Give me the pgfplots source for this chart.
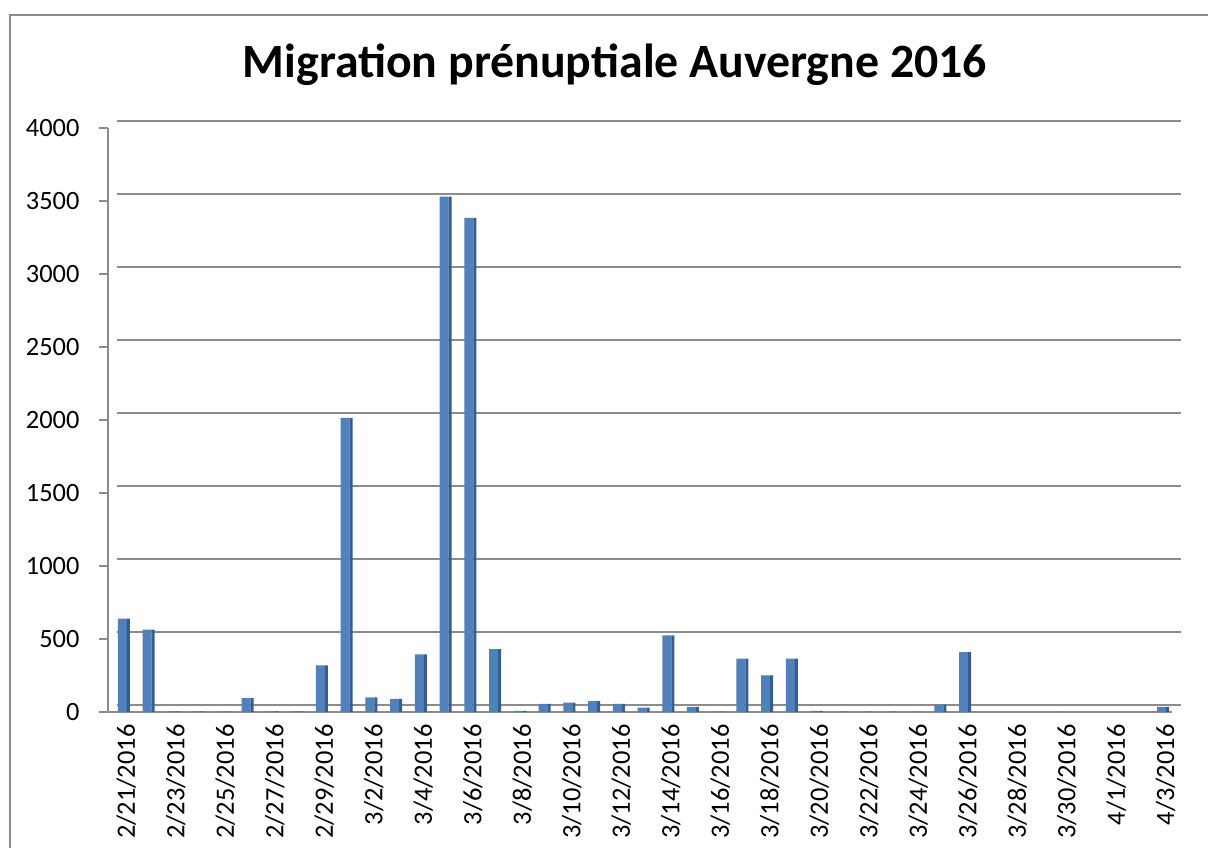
\documentclass[border=0pt]{standalone}
\usepackage{pgfplots}
\pgfplotsset{compat=1.18}
\usepackage{pgfplotstable}
\usepackage{fontspec}
\setmainfont{Carlito}
\definecolor{barfront}{HTML}{4F81BD}
\definecolor{barside}{HTML}{385D8A}
\definecolor{gridc}{HTML}{8C8C8C}
\pgfplotstableread{
x y
0 640
1 565
2 5
3 5
4 3
5 95
6 5
7 5
8 320
9 2015
10 100
11 90
12 395
13 3530
14 3385
15 430
16 8
17 55
18 65
19 75
20 55
21 30
22 525
23 35
24 2
25 365
26 250
27 365
28 8
29 3
30 3
31 3
32 3
33 50
34 410
35 0
36 0
37 0
38 0
39 0
40 0
41 0
42 35
}\datatable
\begin{document}
\begin{tikzpicture}[x=1bp,y=1bp]
\useasboundingbox (0,0) rectangle (1208,848);
\draw[gridc, line width=1.5bp] (10,-20) rectangle (1230,833);
\node[font=\bfseries\fontsize{48}{57}\selectfont, anchor=base] at (615,770) {Migration prénuptiale Auvergne 2016};
\begin{axis}[
  at={(108bp,136bp)}, anchor=south west,
  width=1064bp, height=584bp, scale only axis,
  ymin=0, ymax=4000, ytick={0,500,...,4000},
  xmin=-0.5, xmax=42.5,
  axis x line*=bottom, axis y line*=left,
  axis line style={gridc, line width=1.5bp},
  ymajorgrids, grid style={gridc, line width=1.5bp, yshift=7bp, xshift=9bp},
  tick align=outside, major tick length=9bp,
  y tick style={gridc, line width=1.5bp},
  x tick style={draw=none},
  xtick={0,2,...,42},
  xticklabels={2/21/2016,2/23/2016,2/25/2016,2/27/2016,2/29/2016,3/2/2016,3/4/2016,3/6/2016,3/8/2016,3/10/2016,3/12/2016,3/14/2016,3/16/2016,3/18/2016,3/20/2016,3/22/2016,3/24/2016,3/26/2016,3/28/2016,3/30/2016,4/1/2016,4/3/2016},
  extra x ticks={-0.5,1.5,...,41.5},
  extra x tick labels={},
  extra x tick style={grid=none, tick style={draw=gridc, line width=1.5bp}},
  xticklabel style={rotate=90, anchor=east, font=\fontsize{26.5}{31}\selectfont, yshift=-6bp},
  yticklabel style={font=\fontsize{26.5}{31}\selectfont, xshift=-16bp},
  /pgf/number format/assume math mode=true,
  scaled y ticks=false,
  yticklabel={\pgfmathprintnumber[fixed, 1000 sep={}]{\tick}},
  clip=false,
]
\addplot[ybar, bar width=9bp, bar shift=2bp, draw=none, fill=barfront] table {\datatable};
\addplot[ybar, bar width=3bp, bar shift=8bp, draw=none, fill=barside] table {\datatable};
\end{axis}
\end{tikzpicture}
\end{document}
